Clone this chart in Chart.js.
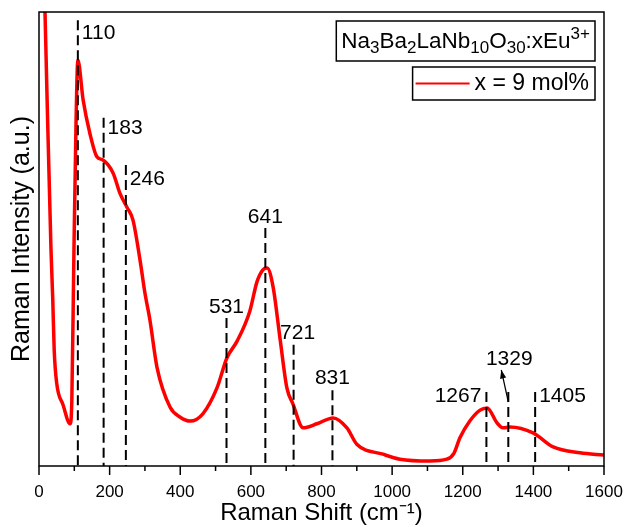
<!DOCTYPE html>
<html>
<head>
<meta charset="utf-8">
<script src="https://cdn.jsdelivr.net/npm/chart.js@4.4.1/dist/chart.umd.min.js"></script>
<style>
  html, body { margin: 0; padding: 0; background: #fff; }
  #wrap { width: 627px; height: 527px; }
</style>
</head>
<body>
<div id="wrap"><canvas id="ramanChart"></canvas></div>
<script>
// spectrum (intensity in arbitrary units, 0..100 = axis span)
const ramanShift = [
  15, 17, 23, 34, 39, 43, 50, 68, 88, 93, 99, 105, 110, 125, 144, 164, 181, 210, 229,
  249, 266, 286, 300, 314, 334, 371, 399, 428, 464, 504, 532, 561, 597, 617, 634, 646,
  663, 683, 702, 719, 748, 787, 833, 872, 900, 974, 1022, 1107, 1155, 1175, 1192, 1220,
  1249, 1269, 1297, 1314, 1334, 1399, 1456, 1532, 1600
];
const ramanIntensity = [
  106, 100, 80.6, 47.6, 36.6, 25.6, 18.3, 13.5, 9.3, 14.5, 47.6, 76.2, 89.4, 80.6, 73.3, 68.1, 67.4, 64.5, 60.1,
  57.0, 54.2, 45.4, 38.1, 32.2, 21.8, 13.0, 10.8, 9.9, 11.5, 17.2, 23.8, 27.5, 34.1, 40.5, 43.2, 43.6,
  39.4, 27.8, 17.2, 13.7, 8.4, 9.3, 10.6, 8.4, 4.8, 2.6, 1.5, 1.1, 1.5, 2.8, 6.2, 9.9,
  12.3, 12.8, 9.5, 8.4, 8.6, 7.3, 4.2, 2.9, 2.4
];

const peakShifts = [110, 183, 246, 531, 641, 721, 831, 1267, 1329, 1405];
const peakLineTops = [98.2, 76.7, 66.3, 32.6, 52.4, 26.7, 16.7, 16.3, 16.3, 16.3];

const xTickLabels = [0, 200, 400, 600, 800, 1000, 1200, 1400, 1600];
const seriesLabel = 'x = 9 mol%';
const FONT = "'Liberation Sans', Arial, sans-serif";

// where each peak label sits relative to the top of its dashed line
const labelPlacement = {
  110: { align: 'left', dx: 4, dy: 13 },
  183: { align: 'left', dx: 4, dy: 10 },
  246: { align: 'left', dx: 4, dy: 14 },
  531: { align: 'center', dx: 0, dy: -11 },
  641: { align: 'center', dx: 0, dy: -11 },
  721: { align: 'center', dx: 4, dy: -12 },
  831: { align: 'center', dx: 0, dy: -12 },
  1267: { align: 'right', dx: -5, dy: 4 },
  1329: { align: 'arrow' },
  1405: { align: 'left', dx: 4, dy: 4 }
};

const NORMAL_SIZE = 22.5;
const SMALL_SIZE = 17;

function drawRichText(ctx, parts, x, y) {
  let cx = x;
  parts.forEach(([text, kind]) => {
    const size = kind === 'n' ? NORMAL_SIZE : SMALL_SIZE;
    const shift = kind === 'sub' ? 5 : kind === 'sup' ? -9 : 0;
    ctx.font = `${size}px ${FONT}`;
    ctx.fillText(text, cx, y + shift);
    cx += ctx.measureText(text).width;
  });
  return cx - x;
}

function measureRichText(ctx, parts) {
  return parts.reduce((w, [text, kind]) => {
    ctx.font = `${kind === 'n' ? NORMAL_SIZE : SMALL_SIZE}px ${FONT}`;
    return w + ctx.measureText(text).width;
  }, 0);
}

const ramanDecorations = {
  id: 'ramanDecorations',
  afterDatasetsDraw(chart) {
    const { ctx, chartArea: area, scales: { x, y } } = chart;
    ctx.save();
    ctx.strokeStyle = '#000';
    ctx.fillStyle = '#000';

    // dashed peak markers
    ctx.lineWidth = 2;
    ctx.setLineDash([10, 5]);
    peakShifts.forEach((p, i) => {
      const px = x.getPixelForValue(p);
      const top = y.getPixelForValue(peakLineTops[i]);
      ctx.beginPath();
      ctx.moveTo(px, top);
      ctx.lineTo(px, area.bottom);
      ctx.stroke();
    });
    ctx.setLineDash([]);

    // peak labels
    ctx.font = `21px ${FONT}`;
    peakShifts.forEach((p, i) => {
      const px = x.getPixelForValue(p);
      const top = y.getPixelForValue(peakLineTops[i]);
      const place = labelPlacement[p];
      if (place.align === 'arrow') {
        const x0 = px, y0 = top + 10, x1 = px - 7, y1 = top - 22;
        ctx.lineWidth = 1.2;
        ctx.beginPath();
        ctx.moveTo(x0, y0);
        ctx.lineTo(x1, y1);
        ctx.stroke();
        const ang = Math.atan2(y1 - y0, x1 - x0);
        ctx.beginPath();
        ctx.moveTo(x1, y1);
        ctx.lineTo(x1 - 9 * Math.cos(ang - 0.35), y1 - 9 * Math.sin(ang - 0.35));
        ctx.lineTo(x1 - 9 * Math.cos(ang + 0.35), y1 - 9 * Math.sin(ang + 0.35));
        ctx.closePath();
        ctx.fill();
        ctx.textAlign = 'center';
        ctx.textBaseline = 'middle';
        ctx.fillText(String(p), px + 1, y1 - 11);
        return;
      }
      ctx.textAlign = place.align;
      ctx.textBaseline = 'middle';
      ctx.fillText(String(p), px + place.dx, top + place.dy);
    });

    // frame and x tick marks
    ctx.lineWidth = 1.5;
    ctx.strokeRect(area.left, area.top, area.right - area.left, area.bottom - area.top);
    x.ticks.forEach(t => {
      const px = x.getPixelForValue(t.value);
      const len = xTickLabels.includes(t.value) ? 9 : 5;
      ctx.beginPath();
      ctx.moveTo(px, area.bottom);
      ctx.lineTo(px, area.bottom + len);
      ctx.stroke();
    });
    ctx.restore();
  },
  afterDraw(chart) {
    const { ctx, chartArea: area } = chart;
    const ds = chart.data.datasets[0];
    ctx.save();
    ctx.fillStyle = '#000';
    ctx.strokeStyle = '#000';
    ctx.lineWidth = 1.5;
    ctx.textAlign = 'left';
    ctx.textBaseline = 'alphabetic';

    // sample formula box
    const formula = [['Na', 'n'], ['3', 'sub'], ['Ba', 'n'], ['2', 'sub'], ['La', 'n'], ['Nb', 'n'],
      ['10', 'sub'], ['O', 'n'], ['30', 'sub'], [':xEu', 'n'], ['3+', 'sup']];
    const right = area.right - 9;
    const fw = measureRichText(ctx, formula);
    const b1 = { x: right - fw - 10, y: area.top + 9, w: fw + 10, h: 40 };
    ctx.strokeRect(b1.x, b1.y, b1.w, b1.h);
    drawRichText(ctx, formula, b1.x + 5, b1.y + 27);

    // legend box
    ctx.font = `23px ${FONT}`;
    const tw = ctx.measureText(ds.label).width;
    const b2 = { x: right - tw - 68, y: area.top + 55, w: tw + 68, h: 33 };
    ctx.strokeRect(b2.x, b2.y, b2.w, b2.h);
    ctx.strokeStyle = ds.borderColor;
    ctx.lineWidth = 2;
    ctx.beginPath();
    ctx.moveTo(b2.x + 3, b2.y + 16.5);
    ctx.lineTo(b2.x + 57, b2.y + 16.5);
    ctx.stroke();
    ctx.textBaseline = 'middle';
    ctx.fillText(ds.label, b2.x + 62, b2.y + 17);
    ctx.restore();
  }
};

new Chart(document.getElementById('ramanChart'), {
  type: 'line',
  data: {
    datasets: [{
      label: seriesLabel,
      data: ramanShift.map((s, i) => ({ x: s, y: ramanIntensity[i] })),
      borderColor: '#ff0000',
      borderWidth: 3.5,
      pointRadius: 0,
      cubicInterpolationMode: 'monotone',
      fill: false
    }]
  },
  options: {
    responsive: true,
    maintainAspectRatio: false,
    animation: false,
    layout: { padding: { top: 12, right: 23, left: 0, bottom: 0 } },
    plugins: { legend: { display: false }, tooltip: { enabled: false } },
    scales: {
      x: {
        type: 'linear',
        min: 0,
        max: 1600,
        grid: { display: false, drawTicks: false },
        border: { display: false },
        ticks: {
          stepSize: 100,
          padding: 16,
          color: '#000',
          font: { family: FONT, size: 17 },
          maxRotation: 0,
          autoSkip: false,
          callback: value => (xTickLabels.includes(value) ? String(value) : '')
        },
        title: {
          display: true,
          text: 'Raman Shift (cm\u207B\u00B9)',
          color: '#000',
          font: { family: FONT, size: 24 },
          padding: { top: 0, bottom: -1 }
        },
        afterFit: scale => {
          scale.height = 61;
          scale.paddingLeft = 0;
          scale.paddingRight = 0;
        }
      },
      y: {
        min: 0,
        max: 100,
        grid: { display: false, drawTicks: false },
        border: { display: false },
        ticks: { display: false },
        title: {
          display: true,
          text: 'Raman Intensity (a.u.)',
          color: '#000',
          font: { family: FONT, size: 25 },
          padding: { top: 7, bottom: 0 }
        },
        afterFit: scale => { scale.width = 39; }
      }
    }
  },
  plugins: [ramanDecorations]
});
</script>
</body>
</html>
